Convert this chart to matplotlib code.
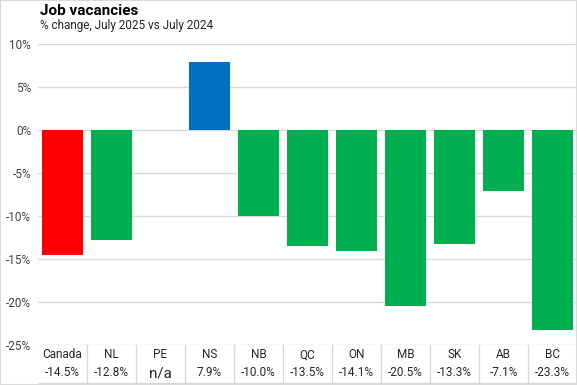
import numpy as np
import matplotlib.pyplot as plt
import matplotlib.transforms as mtransforms
from matplotlib.patches import Rectangle

# data
regions = ["Canada", "NL", "PE", "NS", "NB", "QC", "ON", "MB", "SK", "AB", "BC"]
changes = [-14.5, -12.8, np.nan, 7.9, -10.0, -13.5, -14.1, -20.5, -13.3, -7.1, -23.3]
value_labels = ["-14.5%", "-12.8%", "n/a", "7.9%", "-10.0%", "-13.5%", "-14.1%",
                "-20.5%", "-13.3%", "-7.1%", "-23.3%"]
yticks = [10, 5, 0, -5, -10, -15, -20, -25]

plt.rcParams['font.family'] = ['Roboto', 'DejaVu Sans']

fig = plt.figure(figsize=(5.77, 3.85), dpi=100)
ax = fig.add_axes([38 / 577, 1 - 345 / 385, 539 / 577, 301 / 385])

colors = []
for r, v in zip(regions, changes):
    if r == "Canada":
        colors.append("#FF0000")
    elif v > 0:
        colors.append("#0070C0")
    else:
        colors.append("#00B050")

x = np.arange(len(regions))
vals = np.nan_to_num(changes, nan=0.0)
ax.bar(x, vals, width=0.82, color=colors, zorder=3)

ax.set_xlim(-0.5, len(regions) - 0.5)
ax.set_ylim(-25, 10)
ax.set_yticks(yticks)
ax.set_yticklabels([f"{t}%" for t in yticks])
ax.tick_params(axis='y', length=0, labelsize=8.5, labelcolor="#404040", pad=5)
ax.set_xticks([])
ax.grid(axis='y', color="#D9D9D9", linewidth=1, zorder=0)
for s in ax.spines.values():
    s.set_visible(False)

# table under the bars
trans = mtransforms.blended_transform_factory(ax.transData, ax.transAxes)
y_cat = -10 / 301
y_val = -28 / 301
y_bot = -38 / 301
for i, (r, lab) in enumerate(zip(regions, value_labels)):
    ax.text(i, y_cat, r, transform=trans, ha='center', va='center',
            fontsize=8.5, color="#262626", clip_on=False)
    fs = 11 if lab == "n/a" else 8.5
    ax.text(i, y_val, lab, transform=trans, ha='center', va='center',
            fontsize=fs, color="#262626", clip_on=False)
for i in range(len(regions) - 1):
    ax.plot([i + 0.5, i + 0.5], [0, y_bot], transform=trans, color="#D9D9D9",
            linewidth=1, clip_on=False)
ax.plot([-0.5, len(regions) - 0.5], [y_bot, y_bot], transform=trans,
        color="#D9D9D9", linewidth=1, clip_on=False)

fig.text(40 / 577, 1 - 11 / 385, "Job vacancies", fontsize=11, fontweight='bold',
         ha='left', va='center', color="#000000")
fig.text(40 / 577, 1 - 26 / 385, "% change, July 2025 vs July 2024", fontsize=8.5,
         ha='left', va='center', color="#262626")

fig.patches.append(Rectangle((0, 0), 1, 1, transform=fig.transFigure, fill=False,
                             edgecolor="#D9D9D9", linewidth=1.5))

fig.savefig("out.png", dpi=100)
